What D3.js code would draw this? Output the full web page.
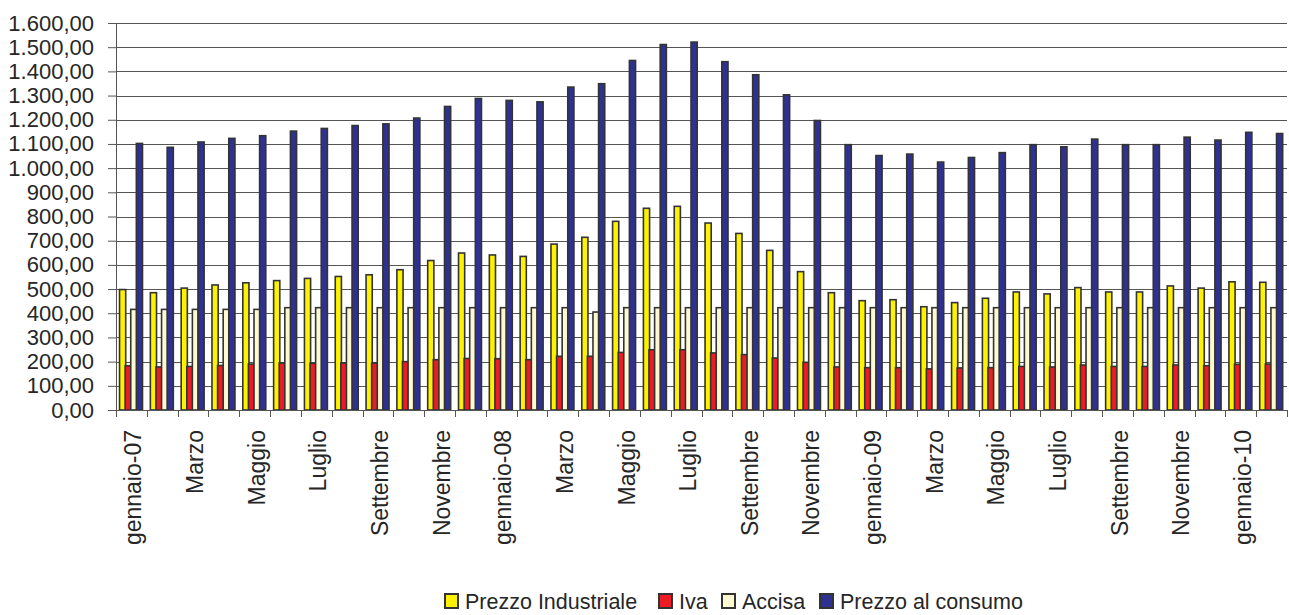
<!DOCTYPE html>
<html>
<head>
<meta charset="utf-8">
<script src="https://cdn.jsdelivr.net/npm/d3@7"></script>
<style>
  body { margin: 0; background: #fff; }
  svg text { font-family: "Liberation Sans", Arial, sans-serif; fill: #262626; }
</style>
</head>
<body>
<script>
// mesi da gennaio 2007 a febbraio 2010, etichetta solo uno si e uno no
var mesi = ["gennaio-07", "Febbraio", "Marzo", "Aprile", "Maggio", "Giugno", "Luglio", "Agosto", "Settembre", "Ottobre", "Novembre", "Dicembre",
    "gennaio-08", "Febbraio", "Marzo", "Aprile", "Maggio", "Giugno", "Luglio", "Agosto", "Settembre", "Ottobre", "Novembre", "Dicembre",
    "gennaio-09", "Febbraio", "Marzo", "Aprile", "Maggio", "Giugno", "Luglio", "Agosto", "Settembre", "Ottobre", "Novembre", "Dicembre",
    "gennaio-10", "Febbraio"];

var prezzoIndustriale = [498, 485, 504, 517, 526, 535, 544, 552, 559, 580, 618, 649, 641, 635, 686, 714, 780, 834, 842, 773, 730, 660, 572, 485,
    452, 456, 427, 444, 462, 488, 480, 506, 488, 488, 513, 504, 530, 528];
var iva = [183, 178, 180, 184, 190, 194, 193, 194, 194, 200, 208, 213, 212, 208, 222, 222, 238, 249, 249, 236, 229, 215, 197, 178,
    175, 175, 170, 174, 175, 180, 178, 186, 180, 180, 186, 183, 189, 190];
var accisa = [416, 416, 416, 416, 416, 423, 423, 423, 423, 423, 423, 423, 423, 423, 423, 405, 423, 423, 423, 423, 423, 423, 423, 423,
    423, 423, 423, 423, 423, 423, 423, 423, 423, 423, 423, 423, 423, 423];
var prezzoConsumo = [1102, 1086, 1108, 1123, 1134, 1153, 1164, 1176, 1183, 1207, 1255, 1288, 1280, 1274, 1335, 1349, 1445, 1511, 1521, 1440, 1386, 1303, 1197, 1097,
    1052, 1058, 1025, 1044, 1064, 1097, 1088, 1120, 1097, 1097, 1128, 1116, 1148, 1143];

var serie = ["Prezzo Industriale", "Iva", "Accisa", "Prezzo al consumo"];
var yTicks = d3.range(0, 1601, 100);

var colori = {
    "Prezzo Industriale": "#fff200",
    "Iva": "#ed1c24",
    "Accisa": "#fff9d2",
    "Prezzo al consumo": "#2e3192"
};

var W = 1289, H = 615;
var margin = {top: 23, right: 2, bottom: 205, left: 116};
var w = W - margin.left - margin.right,
    h = H - margin.top - margin.bottom;

var svg = d3.select("body").append("svg")
    .attr("width", W)
    .attr("height", H);

var g = svg.append("g")
    .attr("transform", "translate(" + margin.left + "," + margin.top + ")");

var x0 = d3.scaleBand()
    .domain(d3.range(mesi.length))
    .range([0, w])
    .paddingInner(0).paddingOuter(0);

// barre dentro il gruppo, leggermente sovrapposte come in Excel
var x1 = d3.scalePoint()
    .domain(serie)
    .range([x0.bandwidth() * 0.115, x0.bandwidth() * 0.66]);
var barW = x0.bandwidth() * 0.2;

var y = d3.scaleLinear()
    .domain([0, 1600])
    .range([h, 0]);

// griglia
g.append("g")
    .selectAll("line")
    .data(yTicks)
    .enter().append("line")
    .attr("x1", 0).attr("x2", w)
    .attr("y1", d => Math.round(y(d)) + 0.5)
    .attr("y2", d => Math.round(y(d)) + 0.5)
    .attr("stroke", "#555")
    .attr("stroke-width", 1);

// asse y
var yAxis = g.append("g")
    .call(d3.axisLeft(y)
        .tickValues(yTicks)
        .tickSize(8)
        .tickPadding(14)
        .tickFormat(d => d3.format(",.2f")(d).replace(/,/g, "X").replace(".", ",").replace(/X/g, ".")));
yAxis.select(".domain").attr("stroke", "#555");
yAxis.selectAll(".tick line").attr("stroke", "#555");
yAxis.selectAll(".tick text")
    .style("font-size", "22px")
    .attr("fill", "#262626");

var tabella = mesi.map(function (m, i) {
    return {
        i: i,
        valori: [
            {s: "Prezzo Industriale", v: prezzoIndustriale[i]},
            {s: "Iva", v: iva[i]},
            {s: "Accisa", v: accisa[i]},
            {s: "Prezzo al consumo", v: prezzoConsumo[i]}
        ]
    };
});

var gruppi = g.selectAll(".gruppo")
    .data(tabella)
    .enter().append("g")
    .attr("class", "gruppo")
    .attr("transform", d => "translate(" + x0(d.i) + ",0)");

gruppi.selectAll("rect")
    .data(d => d.valori)
    .enter().append("rect")
    .attr("x", d => x1(d.s))
    .attr("y", d => y(d.v))
    .attr("width", barW)
    .attr("height", d => h - y(d.v))
    .attr("fill", d => colori[d.s])
    .attr("stroke", "#333")
    .attr("stroke-width", 1.6);

// asse x con tacche ai confini delle categorie
var xAxisG = g.append("g")
    .attr("transform", "translate(0," + h + ")");
xAxisG.append("line")
    .attr("x1", 0).attr("x2", w)
    .attr("y1", 0.5).attr("y2", 0.5)
    .attr("stroke", "#555");
xAxisG.selectAll(".tacca")
    .data(d3.range(mesi.length + 1))
    .enter().append("line")
    .attr("class", "tacca")
    .attr("x1", d => Math.round(d * x0.step()) + 0.5)
    .attr("x2", d => Math.round(d * x0.step()) + 0.5)
    .attr("y1", 0).attr("y2", 7)
    .attr("stroke", "#555");

xAxisG.selectAll(".etichetta")
    .data(tabella.filter(d => d.i % 2 === 0))
    .enter().append("text")
    .attr("class", "etichetta")
    .attr("transform", d => "translate(" + (x0(d.i) + x0.bandwidth() / 2 + 2) + ",20) rotate(-90)")
    .attr("dy", "0.35em")
    .attr("text-anchor", "end")
    .style("font-size", "23px")
    .text(d => mesi[d.i]);

// legenda (posizioni prese dal grafico originale)
var legX = [0, 214, 277, 375];
var leg = svg.append("g")
    .attr("transform", "translate(444,593)");
serie.forEach(function (s, i) {
    var item = leg.append("g").attr("transform", "translate(" + legX[i] + ",0)");
    item.append("rect")
        .attr("x", 1).attr("y", 1)
        .attr("width", 13).attr("height", 14)
        .attr("fill", colori[s])
        .attr("stroke", "#333")
        .attr("stroke-width", 2);
    item.append("text")
        .attr("x", 21)
        .attr("y", 16)
        .style("font-size", "21.5px")
        .text(s);
});
</script>
</body>
</html>
